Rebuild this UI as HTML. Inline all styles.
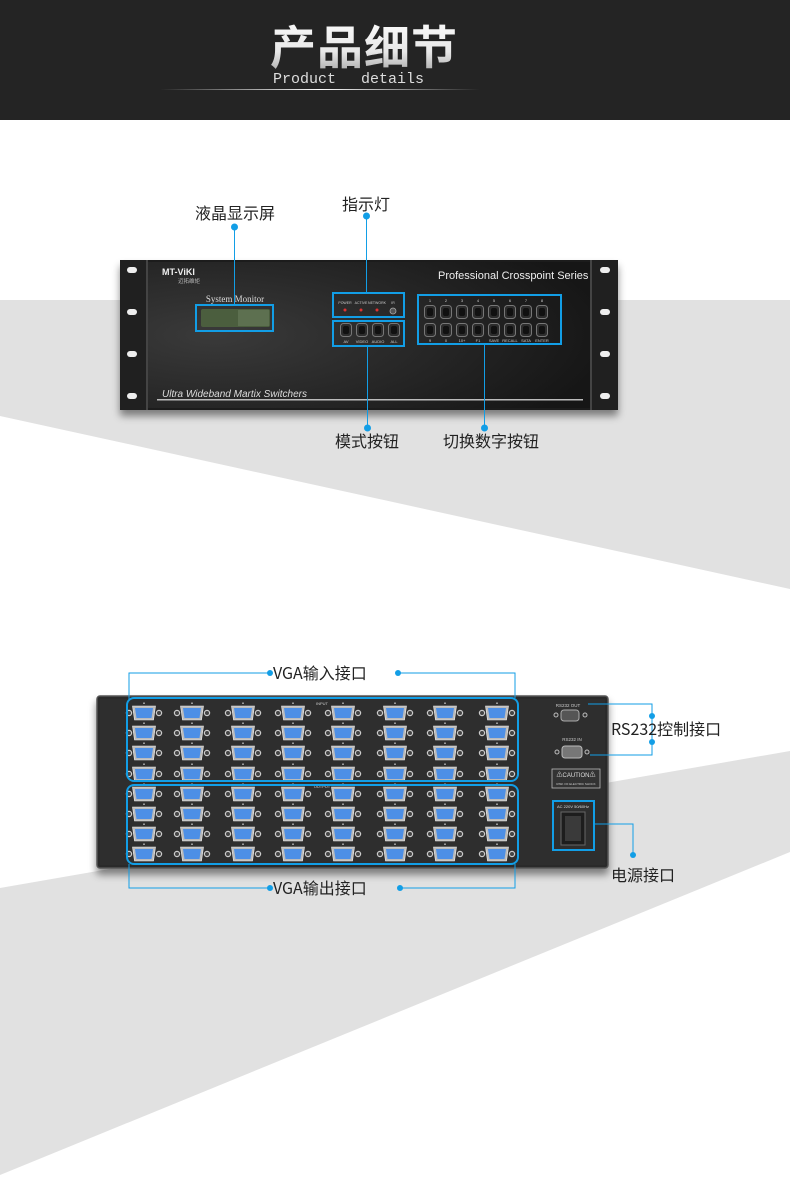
<!DOCTYPE html>
<html><head><meta charset="utf-8"><style>
html,body{margin:0;padding:0;background:#fff;}
body{width:790px;height:1199px;overflow:hidden;position:relative;font-family:"Liberation Sans","Noto Sans CJK SC",sans-serif;}
svg{position:absolute;left:0;top:0;}
</style></head><body>
<svg width="790" height="1199" viewBox="0 0 790 1199" xmlns="http://www.w3.org/2000/svg">
<defs>
<linearGradient id="tg" x1="0" y1="0" x2="0" y2="1"><stop offset="0" stop-color="#fff"/><stop offset="0.6" stop-color="#e8e8e8"/><stop offset="1" stop-color="#9a9a9a"/></linearGradient>
<linearGradient id="hl" x1="0" y1="0" x2="1" y2="0"><stop offset="0" stop-color="#fff" stop-opacity="0"/><stop offset="0.5" stop-color="#fff"/><stop offset="1" stop-color="#fff" stop-opacity="0"/></linearGradient>
<radialGradient id="fp" cx="0.15" cy="0.5" r="0.9"><stop offset="0" stop-color="#3a3a3a"/><stop offset="1" stop-color="#161616"/></radialGradient>
<filter id="sh" x="-5%" y="-5%" width="110%" height="130%"><feDropShadow dx="0" dy="6" stdDeviation="4" flood-color="#000" flood-opacity="0.45"/></filter>
<g id="port">
<circle cx="-15" cy="0" r="2.6" fill="#444" stroke="#ccc" stroke-width="1.2"/>
<circle cx="15" cy="0" r="2.6" fill="#444" stroke="#ccc" stroke-width="1.2"/>
<polygon points="-11.5,-7 11.5,-7 9.5,7 -9.5,7" fill="#bbb" stroke="#eee" stroke-width="0.6"/>
<polygon points="-9,-5 9,-5 7.5,5 -7.5,5" fill="#4d8fe6"/>
<rect x="-1" y="-10.5" width="2" height="1.5" fill="#999"/>
</g>
<g id="btn"><rect x="-5.5" y="-6.5" width="11" height="13" rx="3" fill="#2c2c2c" stroke="#777" stroke-width="1"/><rect x="-3" y="-4" width="6" height="8" rx="2" fill="#111"/></g>
</defs>

<!-- header -->
<rect x="0" y="0" width="790" height="120" fill="#242424"/>
<text x="364" y="64" text-anchor="middle" font-size="46" font-weight="bold" fill="url(#tg)" font-family="'Noto Sans CJK SC',sans-serif" letter-spacing="1">产品细节</text>
<text x="273" y="83" font-size="15" fill="#ddd" font-family="'Liberation Mono',monospace">Product</text>
<text x="361" y="83" font-size="15" fill="#ddd" font-family="'Liberation Mono',monospace">details</text>
<rect x="160" y="89" width="320" height="1" fill="url(#hl)"/>

<!-- background gray bands -->
<polygon points="0,300 790,300 790,589 0,416" fill="#e1e1e1"/>
<polygon points="0,888 790,751 790,852 0,1175" fill="#e1e1e1"/>

<!-- front panel -->
<g filter="url(#sh)">
<rect x="120" y="260" width="498" height="150" rx="2" fill="#1c1c1c"/>
</g>
<rect x="148" y="262" width="442" height="146" fill="url(#fp)"/>
<rect x="120" y="260" width="28" height="150" fill="#202020"/>
<rect x="590" y="260" width="28" height="150" fill="#202020"/>
<rect x="146" y="260" width="2" height="150" fill="#444"/>
<rect x="590" y="260" width="2" height="150" fill="#444"/>
<g fill="#eee">
<rect x="127" y="267" width="10" height="6" rx="3"/><rect x="127" y="309" width="10" height="6" rx="3"/><rect x="127" y="351" width="10" height="6" rx="3"/><rect x="127" y="393" width="10" height="6" rx="3"/>
<rect x="600" y="267" width="10" height="6" rx="3"/><rect x="600" y="309" width="10" height="6" rx="3"/><rect x="600" y="351" width="10" height="6" rx="3"/><rect x="600" y="393" width="10" height="6" rx="3"/>
</g>
<text x="162" y="275" font-size="9" font-weight="bold" fill="#eee">MT-ViKI</text>
<text x="178" y="283" font-size="5.5" fill="#bbb">迈拓维矩</text>
<text x="438" y="279" font-size="11" fill="#eee">Professional Crosspoint Series</text>
<text x="235" y="302" text-anchor="middle" font-size="9" fill="#ddd" font-family="'Liberation Serif',serif">System Monitor</text>
<rect x="201" y="309" width="69" height="18" rx="2" fill="#4b5e3e"/>
<rect x="238" y="310" width="31" height="16" fill="#5d7050"/>
<text x="162" y="397" font-size="10" font-style="italic" fill="#ddd">Ultra Wideband Martix Switchers</text>
<rect x="157" y="399" width="426" height="1.5" fill="#bbb"/>

<!-- indicator -->
<g font-size="3.5" fill="#ccc" text-anchor="middle">
<text x="345" y="304">POWER</text><text x="361" y="304">ACTIVE</text><text x="377" y="304">NETWORK</text><text x="393" y="304">IR</text>
</g>
<circle cx="345" cy="310" r="1.5" fill="#d33"/><circle cx="361" cy="310" r="1.5" fill="#d33"/><circle cx="377" cy="310" r="1.5" fill="#d33"/><circle cx="393" cy="311" r="3" fill="#555" stroke="#aaa" stroke-width="0.8"/>
<use href="#btn" x="346" y="330"/><use href="#btn" x="362" y="330"/><use href="#btn" x="378" y="330"/><use href="#btn" x="394" y="330"/>
<g font-size="4" fill="#ccc" text-anchor="middle"><text x="346" y="343">AV</text><text x="362" y="343">VIDEO</text><text x="378" y="343">AUDIO</text><text x="394" y="343">ALL</text></g>
<g>
<use href="#btn" x="430" y="312"/><use href="#btn" x="446" y="312"/><use href="#btn" x="462" y="312"/><use href="#btn" x="478" y="312"/><use href="#btn" x="494" y="312"/><use href="#btn" x="510" y="312"/><use href="#btn" x="526" y="312"/><use href="#btn" x="542" y="312"/>
<use href="#btn" x="430" y="330"/><use href="#btn" x="446" y="330"/><use href="#btn" x="462" y="330"/><use href="#btn" x="478" y="330"/><use href="#btn" x="494" y="330"/><use href="#btn" x="510" y="330"/><use href="#btn" x="526" y="330"/><use href="#btn" x="542" y="330"/>
</g>
<g font-size="4" fill="#ccc" text-anchor="middle">
<text x="430" y="302">1</text><text x="446" y="302">2</text><text x="462" y="302">3</text><text x="478" y="302">4</text><text x="494" y="302">5</text><text x="510" y="302">6</text><text x="526" y="302">7</text><text x="542" y="302">8</text>
<text x="430" y="342">9</text><text x="446" y="342">0</text><text x="462" y="342">10+</text><text x="478" y="342">F1</text><text x="494" y="342">SAVE</text><text x="510" y="342">RECALL</text><text x="526" y="342">SATA</text><text x="542" y="342">ENTER</text>
</g>
<g fill="none" stroke="#129ee6" stroke-width="2">
<rect x="196" y="305" width="77" height="26"/>
<rect x="333" y="293" width="71" height="24"/>
<rect x="333" y="321" width="71" height="25"/>
<rect x="418" y="295" width="143" height="49"/>
</g>
<g stroke="#129ee6" stroke-width="1" fill="#129ee6">
<line x1="234.5" y1="228" x2="234.5" y2="305"/><circle cx="234.5" cy="227" r="3"/>
<line x1="366.5" y1="216" x2="366.5" y2="293"/><circle cx="366.5" cy="216" r="3"/>
<line x1="367.5" y1="346" x2="367.5" y2="428"/><circle cx="367.5" cy="428" r="3"/>
<line x1="484.5" y1="344" x2="484.5" y2="428"/><circle cx="484.5" cy="428" r="3"/>
</g>
<g font-size="16" fill="#222" text-anchor="middle" font-family="'Noto Sans CJK SC',sans-serif">
<text x="235" y="219">液晶显示屏</text>
<text x="366" y="210">指示灯</text>
<text x="367" y="447">模式按钮</text>
<text x="491" y="447">切换数字按钮</text>
</g>

<!-- back panel -->
<g filter="url(#sh)"><rect x="97" y="696" width="511" height="172" rx="3" fill="#2a2a2a" stroke="#555" stroke-width="1.5"/></g>
<rect x="100" y="699" width="505" height="166" fill="#2e2e2e"/>
<g>
<use href="#port" x="144" y="713"/><use href="#port" x="192" y="713"/><use href="#port" x="243" y="713"/><use href="#port" x="293" y="713"/><use href="#port" x="343" y="713"/><use href="#port" x="395" y="713"/><use href="#port" x="445" y="713"/><use href="#port" x="497" y="713"/>
<use href="#port" x="144" y="733"/><use href="#port" x="192" y="733"/><use href="#port" x="243" y="733"/><use href="#port" x="293" y="733"/><use href="#port" x="343" y="733"/><use href="#port" x="395" y="733"/><use href="#port" x="445" y="733"/><use href="#port" x="497" y="733"/>
<use href="#port" x="144" y="753"/><use href="#port" x="192" y="753"/><use href="#port" x="243" y="753"/><use href="#port" x="293" y="753"/><use href="#port" x="343" y="753"/><use href="#port" x="395" y="753"/><use href="#port" x="445" y="753"/><use href="#port" x="497" y="753"/>
<use href="#port" x="144" y="774"/><use href="#port" x="192" y="774"/><use href="#port" x="243" y="774"/><use href="#port" x="293" y="774"/><use href="#port" x="343" y="774"/><use href="#port" x="395" y="774"/><use href="#port" x="445" y="774"/><use href="#port" x="497" y="774"/>
<use href="#port" x="144" y="794"/><use href="#port" x="192" y="794"/><use href="#port" x="243" y="794"/><use href="#port" x="293" y="794"/><use href="#port" x="343" y="794"/><use href="#port" x="395" y="794"/><use href="#port" x="445" y="794"/><use href="#port" x="497" y="794"/>
<use href="#port" x="144" y="814"/><use href="#port" x="192" y="814"/><use href="#port" x="243" y="814"/><use href="#port" x="293" y="814"/><use href="#port" x="343" y="814"/><use href="#port" x="395" y="814"/><use href="#port" x="445" y="814"/><use href="#port" x="497" y="814"/>
<use href="#port" x="144" y="834"/><use href="#port" x="192" y="834"/><use href="#port" x="243" y="834"/><use href="#port" x="293" y="834"/><use href="#port" x="343" y="834"/><use href="#port" x="395" y="834"/><use href="#port" x="445" y="834"/><use href="#port" x="497" y="834"/>
<use href="#port" x="144" y="854"/><use href="#port" x="192" y="854"/><use href="#port" x="243" y="854"/><use href="#port" x="293" y="854"/><use href="#port" x="343" y="854"/><use href="#port" x="395" y="854"/><use href="#port" x="445" y="854"/><use href="#port" x="497" y="854"/>
</g>
<text x="322" y="705" font-size="4" fill="#ccc" text-anchor="middle">INPUT</text>
<text x="322" y="788" font-size="4" fill="#ccc" text-anchor="middle">OUTPUT</text>
<g fill="none" stroke="#129ee6" stroke-width="2">
<rect x="127" y="698" width="391" height="83" rx="7"/>
<rect x="127" y="785" width="391" height="79" rx="7"/>
<rect x="553" y="801" width="41" height="49"/>
</g>
<text x="568" y="707" font-size="4.5" fill="#ccc" text-anchor="middle">RS232 OUT</text>
<rect x="561" y="710" width="18" height="11" rx="3" fill="#555" stroke="#aaa"/><circle cx="556" cy="715" r="2" fill="#333" stroke="#bbb"/><circle cx="585" cy="715" r="2" fill="#333" stroke="#bbb"/>
<text x="572" y="741" font-size="4.5" fill="#ccc" text-anchor="middle">RS232 IN</text>
<rect x="562" y="746" width="20" height="12" rx="3" fill="#777" stroke="#bbb"/><circle cx="557" cy="752" r="2" fill="#333" stroke="#bbb"/><circle cx="587" cy="752" r="2" fill="#333" stroke="#bbb"/>
<rect x="552" y="769" width="48" height="19" fill="#333" stroke="#bbb" stroke-width="0.8"/>
<text x="576" y="777" font-size="6" fill="#ddd" text-anchor="middle">⚠CAUTION⚠</text>
<text x="576" y="785" font-size="3" fill="#ccc" text-anchor="middle">RISK OF ELECTRIC SHOCK</text>
<text x="573" y="808" font-size="4" fill="#ddd" text-anchor="middle">AC 220V 50/60Hz</text>
<rect x="561" y="812" width="24" height="33" fill="#1d1d1d" stroke="#666"/>
<rect x="565" y="816" width="16" height="25" fill="#3a3a3a"/>
<g stroke="#129ee6" stroke-width="1" fill="none">
<polyline points="129,700 129,673 270,673"/><polyline points="400,673 515,673 515,698"/>
<polyline points="129,864 129,888 270,888"/><polyline points="400,888 515,888 515,864"/>
<polyline points="588,704 652,704 652,755 590,755"/>
<polyline points="595,824 633,824 633,855"/>
</g>
<g fill="#129ee6">
<circle cx="270" cy="673" r="3"/><circle cx="398" cy="673" r="3"/><circle cx="270" cy="888" r="3"/><circle cx="400" cy="888" r="3"/>
<circle cx="652" cy="716" r="3"/><circle cx="652" cy="742" r="3"/><circle cx="633" cy="855" r="3"/>
</g>
<g font-size="16" fill="#222" font-family="'Noto Sans CJK SC',sans-serif">
<text x="273" y="679">VGA输入接口</text>
<text x="273" y="894">VGA输出接口</text>
<text x="611" y="735">RS232控制接口</text>
<text x="611" y="881">电源接口</text>
</g>
</svg>
</body></html>
